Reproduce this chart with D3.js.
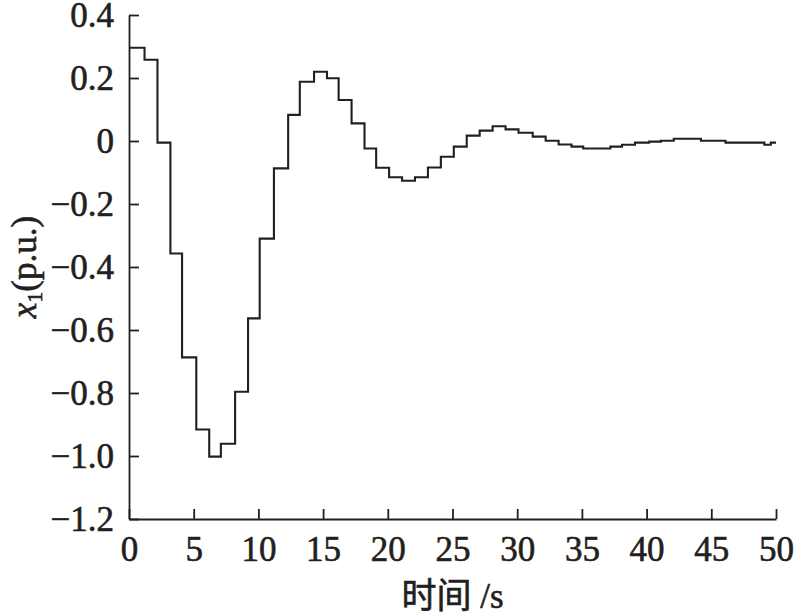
<!DOCTYPE html>
<html>
<head>
<meta charset="utf-8">
<script src="https://cdn.jsdelivr.net/npm/d3@7"></script>
<style>
  html, body { margin: 0; padding: 0; background: #fff; }
  svg { display: block; }
  .axis text { font-family: "Liberation Serif", "Times New Roman", serif; }
</style>
</head>
<body>
<svg id="chart"></svg>
<script>
// step start times (s) and held values of x1 (p.u.)
const stepTimes = [0, 1.2, 2.2, 3.2, 4.1, 5.2, 6.2, 7.1, 8.2, 9.2,
  10.1, 11.2, 12.3, 13.2, 14.3, 15.3, 16.2, 17.2, 18.2, 19.1,
  20.1, 21.1, 22.1, 23.1, 24.1, 25.1, 26.1, 27.1, 28.1, 29.1,
  30.1, 31.2, 32.2, 33.2, 34.2, 35.1, 36.1, 37.2, 38.1, 39.1,
  40.2, 41.1, 42.1, 43.1, 44.2, 45.1, 46.1, 47.1, 48.1, 49.1, 49.6];
const x1Values = [0.296, 0.258, -0.005, -0.357, -0.687, -0.916, -1.002, -0.961, -0.796, -0.563,
  -0.310, -0.087, 0.083, 0.188, 0.220, 0.199, 0.130, 0.056, -0.024, -0.085,
  -0.115, -0.126, -0.115, -0.084, -0.050, -0.018, 0.017, 0.033, 0.047, 0.037,
  0.026, 0.014, 0.001, -0.011, -0.018, -0.024, -0.024, -0.018, -0.012, -0.005,
  -0.002, 0.001, 0.007, 0.007, 0.001, 0.001, -0.005, -0.005, -0.005, -0.012, -0.005];
const endTime = 50;

const xTicks = [0, 5, 10, 15, 20, 25, 30, 35, 40, 45, 50];
const yTicks = [0.4, 0.2, 0, -0.2, -0.4, -0.6, -0.8, -1.0, -1.2];
const yTickLabels = ["0.4", "0.2", "0", "\u22120.2", "\u22120.4", "\u22120.6", "\u22120.8", "\u22121.0", "\u22121.2"];

const W = 795, H = 616;
const margin = { top: 15, right: 19, bottom: 97, left: 129 };
const innerW = W - margin.left - margin.right;
const innerH = H - margin.top - margin.bottom;
const ink = "#231f20";

const svg = d3.select("#chart").attr("width", W).attr("height", H);
const g = svg.append("g").attr("transform", `translate(${margin.left},${margin.top})`);

const x = d3.scaleLinear().domain([0, 50]).range([0, innerW]);
const y = d3.scaleLinear().domain([-1.2, 0.4]).range([innerH, 0]);

const pts = stepTimes.map((t, i) => [t, x1Values[i]]);
pts.push([endTime, x1Values[x1Values.length - 1]]);

const line = d3.line()
  .x(d => x(d[0]))
  .y(d => y(d[1]))
  .curve(d3.curveStepAfter);

g.append("path")
  .datum(pts)
  .attr("d", line)
  .attr("fill", "none")
  .attr("stroke", ink)
  .attr("stroke-width", 2.1);

// x axis, ticks pointing inward
const xAxis = g.append("g")
  .attr("class", "axis")
  .attr("transform", `translate(0,${innerH})`)
  .call(d3.axisBottom(x).tickValues(xTicks).tickSizeInner(-10).tickSizeOuter(0).tickPadding(17));

// y axis, ticks pointing inward
const yAxis = g.append("g")
  .attr("class", "axis")
  .call(d3.axisLeft(y).tickValues(yTicks).tickSizeInner(-10).tickSizeOuter(0).tickPadding(15)
    .tickFormat((d, i) => yTickLabels[i]));

[xAxis, yAxis].forEach(a => {
  a.select(".domain").attr("stroke", ink).attr("stroke-width", 1.8);
  a.selectAll(".tick line").attr("stroke", ink).attr("stroke-width", 1.8);
  a.selectAll(".tick text")
    .attr("fill", ink)
    .attr("font-size", 35)
    .attr("stroke", ink)
    .attr("stroke-width", 0.6);
});

// axis titles
svg.append("text")
  .attr("x", margin.left + innerW / 2)
  .attr("y", 608)
  .attr("text-anchor", "middle")
  .attr("fill", ink)
  .attr("stroke", ink)
  .attr("stroke-width", 0.6)
  .attr("font-size", 35)
  .attr("font-family", "'Liberation Serif', 'Noto Sans CJK SC', serif")
  .text("时间 /s");

const yTitle = svg.append("text")
  .attr("transform", `translate(36,${margin.top + innerH / 2}) rotate(-90)`)
  .attr("text-anchor", "middle")
  .attr("fill", ink)
  .attr("stroke", ink)
  .attr("stroke-width", 0.6)
  .attr("font-size", 35)
  .attr("font-family", "'Liberation Serif', serif");
yTitle.append("tspan").attr("font-style", "italic").text("x");
yTitle.append("tspan").attr("font-size", 22).attr("dy", 6).text("1");
yTitle.append("tspan").attr("dy", -6).text("(p.u.)");
</script>
</body>
</html>
